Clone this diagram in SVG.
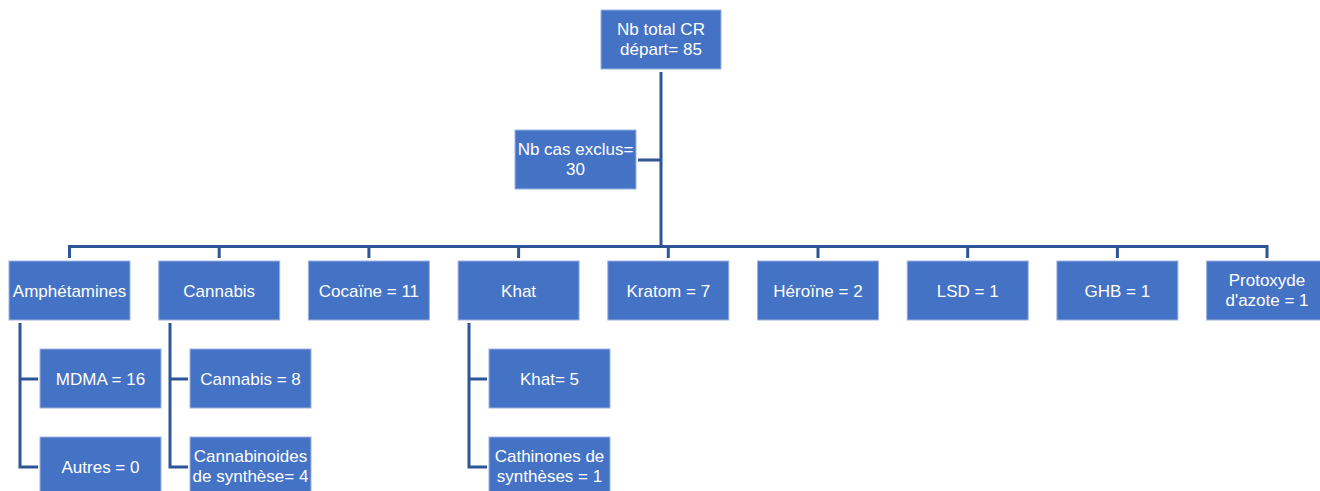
<svg xmlns="http://www.w3.org/2000/svg" width="1320" height="491" viewBox="0 0 1320 491">
<style>
.box{fill:#4472C4;stroke:#9DB3E0;stroke-width:1}
.t{font-family:"Liberation Sans",Arial,sans-serif;font-size:17px;fill:#fff;text-anchor:middle}
.c{fill:none;stroke:#2F5597;stroke-width:3}
</style>
<rect width="1320" height="491" fill="#fff"/>
<g id="connectors">
<path class="c" d="M661,72V246.5"/>
<path class="c" d="M638,160H661"/>
<path class="c" d="M69.5,258V246.5H1267V258"/>
<path class="c" d="M219.2,246.5V258M368.9,246.5V258M518.6,246.5V258M668.3,246.5V258M818,246.5V258M967.7,246.5V258M1117.4,246.5V258"/>
<path class="c" d="M20,323V467H38M20,379H38"/>
<path class="c" d="M170,323V467H188M170,379H188"/>
<path class="c" d="M469,323V467H487M469,379H487"/>
</g>
<g id="n-total"><rect class="box" x="601" y="10" width="120" height="59"/><text class="t" x="661" y="35">Nb total CR</text><text class="t" x="661" y="55">départ= 85</text></g>
<g id="n-exclus"><rect class="box" x="515" y="130" width="121" height="59"/><text class="t" x="575.5" y="155">Nb cas exclus=</text><text class="t" x="575.5" y="175">30</text></g>
<g id="n-amph"><rect class="box" x="9" y="261" width="121" height="59"/><text class="t" x="69.5" y="296.5">Amphétamines</text></g>
<g id="n-cannabis"><rect class="box" x="158.7" y="261" width="121" height="59"/><text class="t" x="219.2" y="296.5">Cannabis</text></g>
<g id="n-cocaine"><rect class="box" x="308.4" y="261" width="121" height="59"/><text class="t" x="368.9" y="296.5">Cocaïne = 11</text></g>
<g id="n-khat"><rect class="box" x="458.1" y="261" width="121" height="59"/><text class="t" x="518.6" y="296.5">Khat</text></g>
<g id="n-kratom"><rect class="box" x="607.8" y="261" width="121" height="59"/><text class="t" x="668.3" y="296.5">Kratom = 7</text></g>
<g id="n-heroine"><rect class="box" x="757.5" y="261" width="121" height="59"/><text class="t" x="818" y="296.5">Héroïne = 2</text></g>
<g id="n-lsd"><rect class="box" x="907.2" y="261" width="121" height="59"/><text class="t" x="967.7" y="296.5">LSD = 1</text></g>
<g id="n-ghb"><rect class="box" x="1056.9" y="261" width="121" height="59"/><text class="t" x="1117.4" y="296.5">GHB = 1</text></g>
<g id="n-protoxyde"><rect class="box" x="1206.6" y="261" width="121" height="59"/><text class="t" x="1267" y="286">Protoxyde</text><text class="t" x="1267" y="306">d'azote = 1</text></g>
<g id="n-mdma"><rect class="box" x="40" y="349" width="121" height="59"/><text class="t" x="100.5" y="384.5">MDMA = 16</text></g>
<g id="n-autres"><rect class="box" x="40" y="437" width="121" height="59"/><text class="t" x="100.5" y="472.5">Autres = 0</text></g>
<g id="n-cannabis8"><rect class="box" x="190" y="349" width="121" height="59"/><text class="t" x="250.5" y="384.5">Cannabis = 8</text></g>
<g id="n-cannabinoides"><rect class="box" x="190" y="437" width="121" height="59"/><text class="t" x="250.5" y="462">Cannabinoides</text><text class="t" x="250.5" y="482">de synthèse= 4</text></g>
<g id="n-khat5"><rect class="box" x="489" y="349" width="121" height="59"/><text class="t" x="549.5" y="384.5">Khat= 5</text></g>
<g id="n-cathinones"><rect class="box" x="489" y="437" width="121" height="59"/><text class="t" x="549.5" y="462">Cathinones de</text><text class="t" x="549.5" y="482">synthèses = 1</text></g>
</svg>
